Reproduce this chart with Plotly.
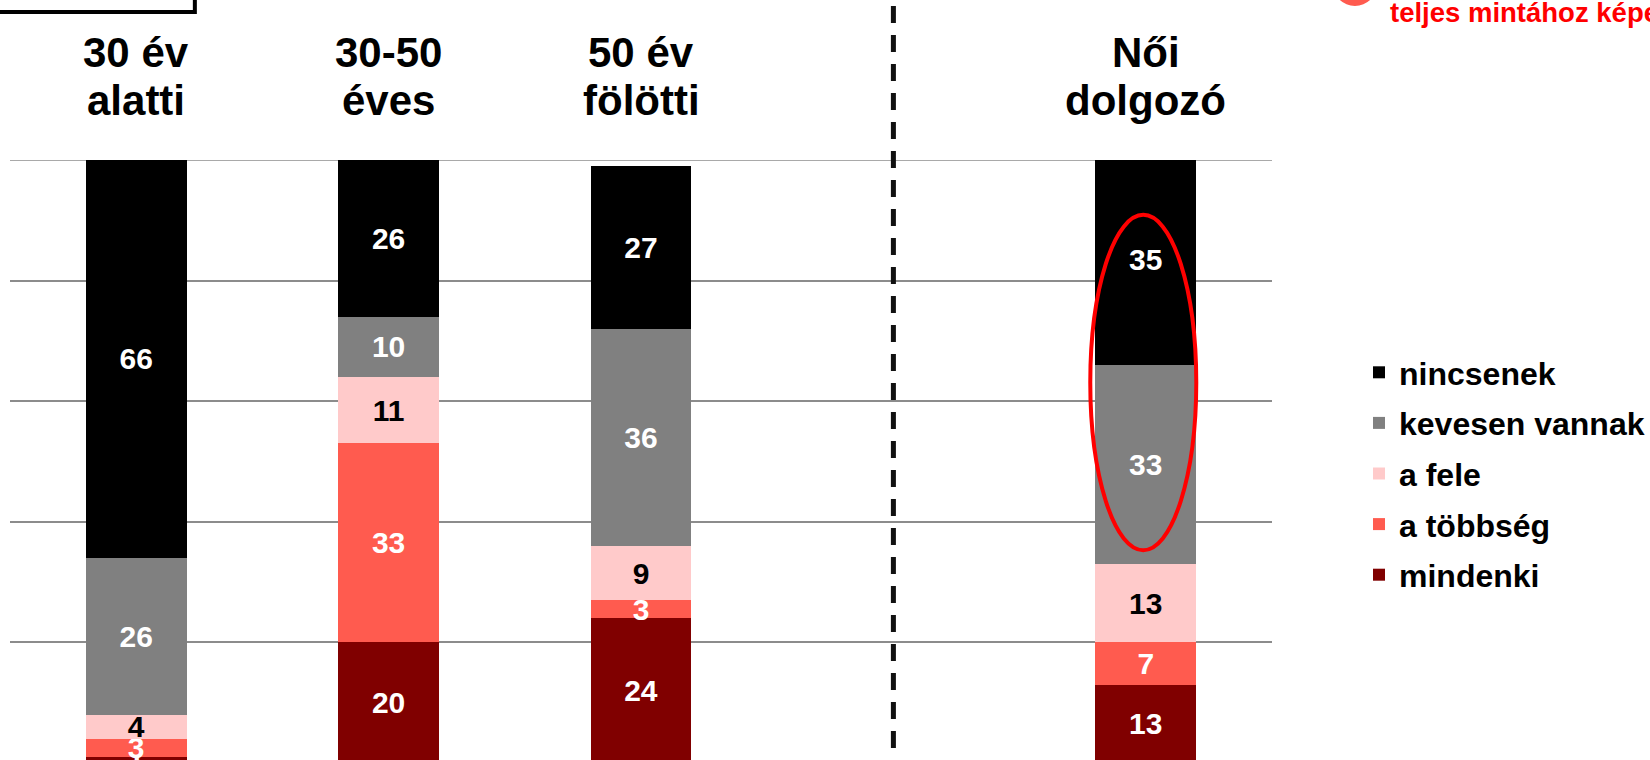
import plotly.graph_objects as go

# Age / gender groups (two-line headers) and their slot on the x axis
group_lines = [("30 év", "alatti"), ("30-50", "éves"), ("50 év", "fölötti"), ("Női", "dolgozó")]
group_pos = [0, 1, 2, 4]

# Stacked shares (%), bottom to top
mindenki = [1, 20, 24, 13]
tobbseg = [3, 33, 3, 7]
fele = [4, 11, 9, 13]
kevesen = [26, 10, 36, 33]
nincsenek = [66, 26, 27, 35]

series = [
    ("mindenki", mindenki, "#800000", "white"),
    ("a többség", tobbseg, "#FF5B4F", "white"),
    ("a fele", fele, "#FFCACA", "black"),
    ("kevesen vannak", kevesen, "#808080", "white"),
    ("nincsenek", nincsenek, "#000000", "white"),
]

note_text = "teljes mintához képest"

W, H = 1650, 760
L, R, T, B = 10, 377, 160, 0
PW, PH = W - L - R, H - T - B
GRID = "#8C8C8C"


def px_x(px):
    return (px - L) / PW


def px_y(py):
    return (H - B - py) / PH


FONT = "Arial, Liberation Sans, sans-serif"

fig = go.Figure()
n = len(series)
for i, (name, vals, color, tcolor) in enumerate(series):
    fig.add_trace(go.Bar(
        x=group_pos, y=vals, name=name,
        legendgroup=name, legendrank=n - i,
        marker=dict(color=color, line=dict(width=0)),
        width=0.4,
        text=[str(v) for v in vals],
        textposition="inside", insidetextanchor="middle",
        constraintext="none", textangle=0,
        textfont=dict(family=FONT, size=30, color=tcolor, weight="bold"),
        hoverinfo="skip",
    ))

# Group headers above the bars
for pos, (l1, l2) in zip(group_pos, group_lines):
    fig.add_annotation(x=pos, xref="x", y=px_y(52), yref="paper", text=f"<b>{l1}</b>",
                       showarrow=False, yanchor="middle",
                       font=dict(family=FONT, size=42, color="black"))
    fig.add_annotation(x=pos, xref="x", y=px_y(101), yref="paper", text=f"<b>{l2}</b>",
                       showarrow=False, yanchor="middle",
                       font=dict(family=FONT, size=42, color="black"))

# Top gridline at 100 % (sits on the plot edge)
fig.add_shape(type="line", xref="paper", yref="y", x0=0, x1=1, y0=100, y1=100,
              layer="below", line=dict(color=GRID, width=1.5))

# Dashed separator before the women's column
fig.add_shape(type="line", xref="x", yref="paper", x0=3, x1=3,
              y0=px_y(6), y1=px_y(775),
              line=dict(color="#111111", width=5, dash="17px,12px"))

# Highlight ellipse on the women's column
fig.add_shape(type="circle", xref="x", yref="y", x0=3.78, x1=4.2, y0=35.3, y1=90.9,
              line=dict(color="#FF0000", width=4))

# Frame corner at top left
fig.add_shape(type="rect", xref="paper", yref="paper",
              x0=px_x(-30), x1=px_x(195), y0=px_y(12), y1=px_y(-30),
              line=dict(color="black", width=4))

# Red badge and note at top right
fig.add_shape(type="circle", xref="paper", yref="paper",
              x0=px_x(1334), x1=px_x(1378), y0=px_y(6), y1=px_y(-38),
              line=dict(width=0), fillcolor="#FF5B4F")
fig.add_annotation(x=px_x(1389), xref="paper", y=px_y(13), yref="paper",
                   text=f"<b>{note_text}</b>", showarrow=False,
                   xanchor="left", yanchor="middle",
                   font=dict(family=FONT, size=27.5, color="#FF0000"))

fig.update_layout(
    width=W, height=H,
    margin=dict(l=L, r=R, t=T, b=B),
    paper_bgcolor="white", plot_bgcolor="white",
    barmode="stack",
    showlegend=True,
    legend=dict(
        x=px_x(1360), xanchor="left", y=px_y(345), yanchor="top",
        traceorder="grouped", tracegroupgap=6,
        itemclick=False, itemdoubleclick=False,
        font=dict(family=FONT, size=32, color="black", weight="bold"),
        bgcolor="rgba(0,0,0,0)",
    ),
    xaxis=dict(range=[-0.5, 4.5], visible=False, fixedrange=True),
    yaxis=dict(range=[0.5, 100], tick0=0, dtick=20, showgrid=True,
               gridcolor=GRID, gridwidth=1.5, showticklabels=False,
               zeroline=False, showline=False, ticks="", fixedrange=True),
)

fig.write_html("out.html")
